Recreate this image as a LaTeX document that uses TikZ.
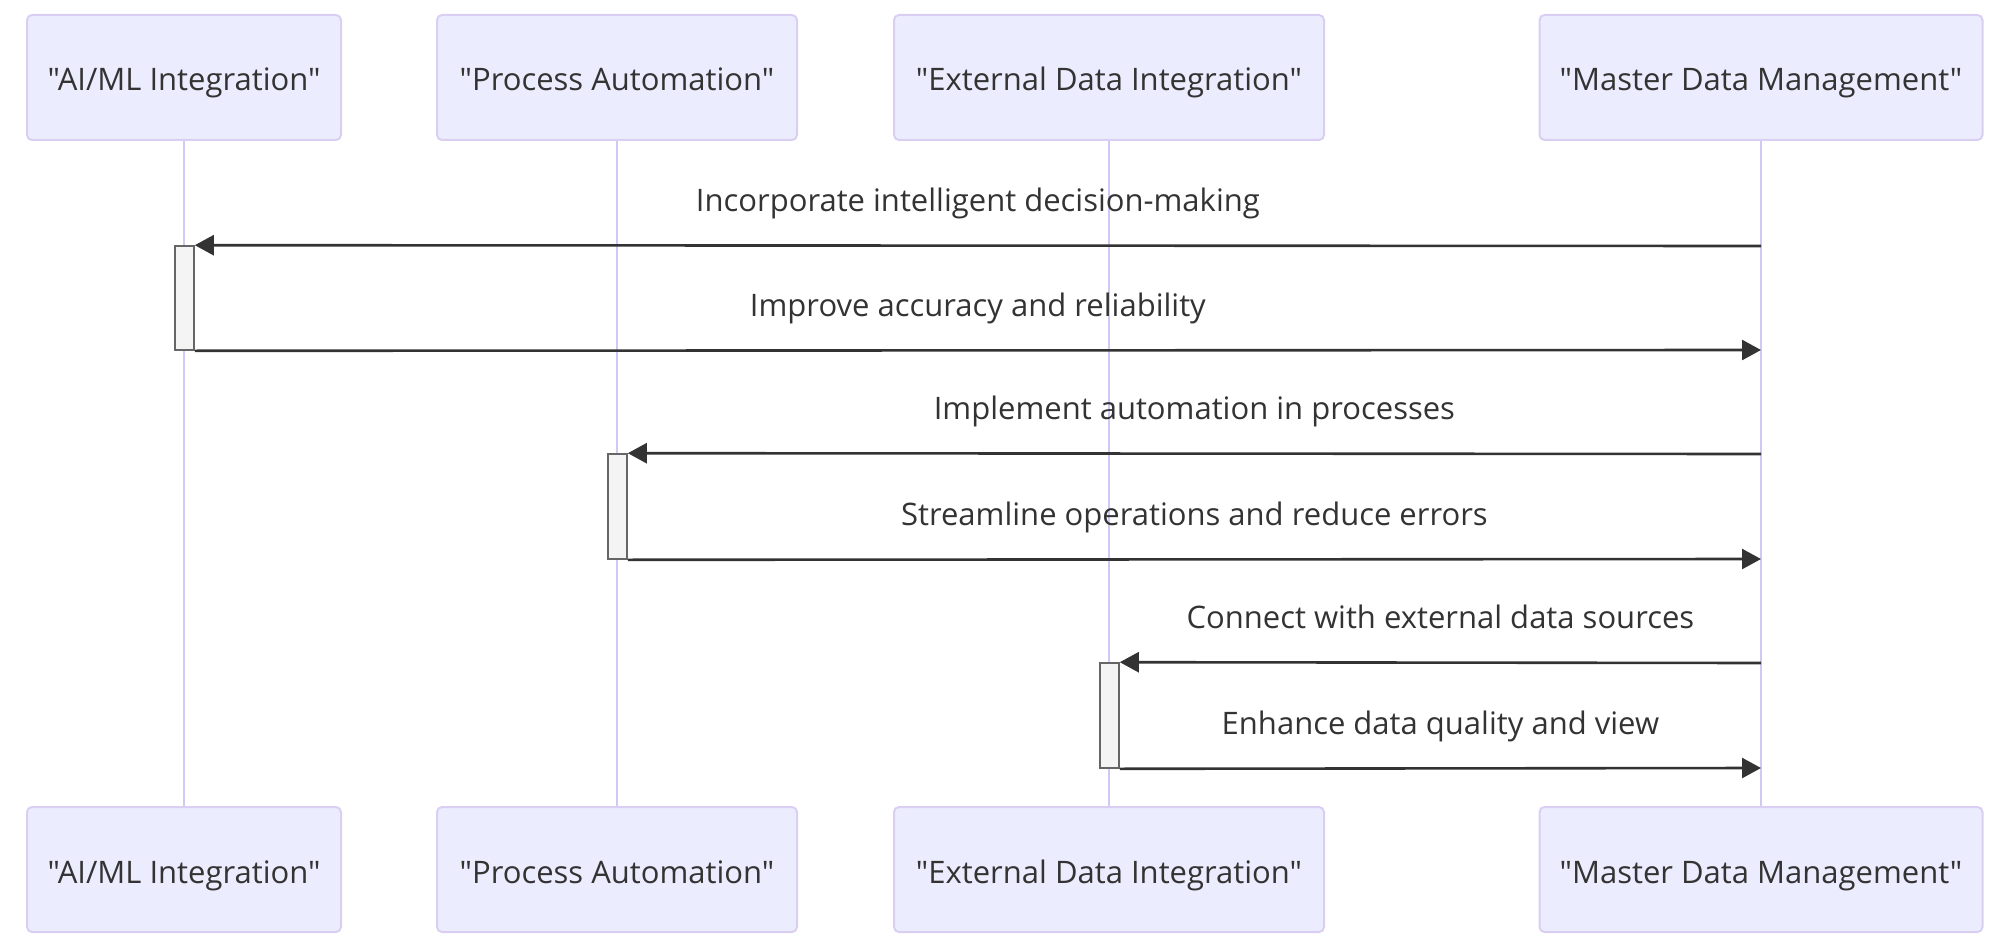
\documentclass[tikz,border=0pt]{standalone}
\usepackage{fontspec}
\setmainfont{Open Sans}[Ligatures=TeXOff]
\usetikzlibrary{arrows.meta,calc}
\definecolor{actfill}{HTML}{ECECFF}
\definecolor{actborder}{HTML}{DACEF3}
\definecolor{lifecol}{HTML}{D2C8F6}
\definecolor{txt}{HTML}{333333}
\definecolor{msgcol}{HTML}{333333}
\definecolor{actvfill}{HTML}{F4F4F4}
\definecolor{actvborder}{HTML}{666666}
\tikzset{
  actor/.style={draw=actborder, fill=actfill, line width=2pt, rounded corners=5pt,
    minimum height=125pt, inner sep=0pt, text=txt, font=\fontsize{31}{37}\selectfont,
    text height=27pt, text depth=0pt},
  lifeline/.style={draw=lifecol, line width=2.4pt},
  actv/.style={draw=actvborder, fill=actvfill, line width=1.6pt, minimum width=19pt, inner sep=0pt},
  msg/.style={draw=msgcol, line width=2.6pt, -{Triangle[length=19pt,width=20pt]}},
  msglabel/.style={text=txt, font=\fontsize{31}{37}\selectfont, text height=22pt, text depth=0pt, inner sep=0pt, yshift=45pt}
}
\begin{document}
\begin{tikzpicture}[x=1pt,y=-1pt]
\useasboundingbox (0,0) rectangle (2000,944);
% top actors
\node[actor, minimum width=314pt] (a1t) at (184,77.5) {"AI/ML Integration"};
\node[actor, minimum width=360pt] (a2t) at (617,77.5) {"Process Automation"};
\node[actor, minimum width=430pt] (a3t) at (1109,77.5) {"External Data Integration"};
\node[actor, minimum width=443pt] (a4t) at (1761,77.5) {"Master Data Management"};
% bottom actors
\node[actor, minimum width=314pt] (a1b) at (184,869.5) {"AI/ML Integration"};
\node[actor, minimum width=360pt] (a2b) at (617,869.5) {"Process Automation"};
\node[actor, minimum width=430pt] (a3b) at (1109,869.5) {"External Data Integration"};
\node[actor, minimum width=443pt] (a4b) at (1761,869.5) {"Master Data Management"};
% lifelines
\draw[lifeline] (a1t.south) -- (a1b.north);
\draw[lifeline] (a2t.south) -- (a2b.north);
\draw[lifeline] (a3t.south) -- (a3b.north);
\draw[lifeline] (a4t.south) -- (a4b.north);
% activations
\node[actv, minimum height=104pt] (v1) at (184.5,298) {};
\node[actv, minimum height=105pt] (v2) at (617.5,506.5) {};
\node[actv, minimum height=105pt] (v3) at (1109.5,715.5) {};
% points on master lifeline
\coordinate (r1) at (1761,246);
\coordinate (r2) at (1761,350);
\coordinate (r3) at (1761,454);
\coordinate (r4) at (1761,559);
\coordinate (r5) at (1761,663);
\coordinate (r6) at (1761,768);
% messages
\draw[msg] (r1) -- (v1.north east) node[msglabel, midway] {Incorporate intelligent decision-making};
\draw[msg] (v1.south east) -- (r2) node[msglabel, midway] {Improve accuracy and reliability};
\draw[msg] (r3) -- (v2.north east) node[msglabel, midway] {Implement automation in processes};
\draw[msg] (v2.south east) -- (r4) node[msglabel, midway] {Streamline operations and reduce errors};
\draw[msg] (r5) -- (v3.north east) node[msglabel, midway] {Connect with external data sources};
\draw[msg] (v3.south east) -- (r6) node[msglabel, midway] {Enhance data quality and view};
\end{tikzpicture}
\end{document}
